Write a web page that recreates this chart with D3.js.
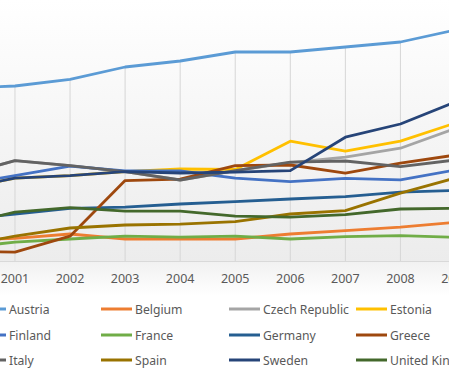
<!DOCTYPE html>
<html>
<head>
<meta charset="utf-8">
<script src="https://cdn.jsdelivr.net/npm/d3@7"></script>
<style>
  body { margin: 0; background: #fff; }
  svg { display: block; font-family: "Noto Sans", sans-serif; }
</style>
</head>
<body>
<svg id="chart" width="449" height="375"></svg>
<script>
// values (arbitrary index units, 2000 and 2009 are partly cut off)
const years = [2000, 2001, 2002, 2003, 2004, 2005, 2006, 2007, 2008, 2009];

const austria = [86.5, 87.5, 90.8, 97, 100, 104.5, 104.5, 107, 109.5, 115.5];
const belgium = [10.5, 11.3, 13.5, 11, 11, 11, 13.5, 15.2, 16.9, 19.3];
const czech   = [42.5, 50.2, 47.7, 44.7, 40.5, 45.2, 49.2, 51.9, 56.4, 66.3];
const estonia = [36, 41.4, 42.7, 44.7, 46, 45.8, 59.9, 54.9, 59.9, 69];
const finland = [38, 42.7, 47.4, 45, 45, 41.4, 39.7, 41.3, 40.6, 45.5];
const france  = [6.5, 9.4, 11, 12.4, 11.9, 12.4, 11, 12.2, 12.7, 11.8];
const germany = [20.5, 23.5, 26.3, 26.9, 28.5, 29.7, 31, 32.2, 34.4, 35.3];
const greece  = [5, 4.4, 12.4, 40.2, 40.9, 47.7, 48, 43.9, 48.9, 53];
const italy   = [42.5, 50.2, 47.7, 44.7, 40.5, 45.2, 49.4, 50, 47.2, 50.5];
const spain   = [7.5, 12.4, 16.5, 18, 18.4, 19.7, 23.5, 25.2, 33.9, 41.5];
const sweden  = [36, 41.4, 42.7, 44.7, 44, 44.4, 45.2, 61.9, 68.5, 79.5];
const uk      = [18, 24.4, 26.7, 24.9, 24.9, 22.4, 21.9, 23.2, 26, 26.4];

const names = ['Austria', 'Belgium', 'Czech Republic', 'Estonia', 'Finland', 'France',
  'Germany', 'Greece', 'Italy', 'Spain', 'Sweden', 'United Kingdom'];
const colors = ['#5B9BD5', '#ED7D31', '#A5A5A5', '#FFC000', '#4472C4', '#70AD47',
  '#255E91', '#9E480E', '#636363', '#997300', '#264478', '#43682B'];

const series = [austria, belgium, czech, estonia, finland, france,
  germany, greece, italy, spain, sweden, uk].map((values, i) => ({
    name: names[i],
    color: colors[i],
    values: values,
  }));

const svg = d3.select('#chart');
const axisY = 261;

const x = d3.scalePoint()
  .domain(years)
  .range([-40.1, 455.5]);

const y = d3.scaleLinear()
  .domain([0, 130])
  .range([axisY, 1]);

// plot background: white fading to light grey at the axis
const defs = svg.append('defs');
const grad = defs.append('linearGradient')
  .attr('id', 'bg')
  .attr('x1', 0).attr('y1', 0).attr('x2', 0).attr('y2', 1);
grad.append('stop').attr('offset', '0%').attr('stop-color', '#ffffff');
grad.append('stop').attr('offset', '100%').attr('stop-color', '#ececec');

const grad2 = defs.append('linearGradient')
  .attr('id', 'bg2')
  .attr('x1', 0).attr('y1', 0).attr('x2', 0).attr('y2', 1);
grad2.append('stop').attr('offset', '0%').attr('stop-color', '#f1f1f1');
grad2.append('stop').attr('offset', '100%').attr('stop-color', '#ffffff');

svg.append('rect')
  .attr('x', 0).attr('y', 0)
  .attr('width', 449).attr('height', axisY)
  .attr('fill', 'url(#bg)');
svg.append('rect')
  .attr('x', 0).attr('y', axisY)
  .attr('width', 449).attr('height', 35)
  .attr('fill', 'url(#bg2)');

// drop lines from the highest point of each year down to the axis
svg.append('g')
  .selectAll('line')
  .data(years)
  .join('line')
    .attr('x1', d => x(d))
    .attr('x2', d => x(d))
    .attr('y1', (d, i) => y(d3.max(series, s => s.values[i])))
    .attr('y2', axisY)
    .attr('stroke', '#d6d6d6')
    .attr('stroke-width', 1);

// category axis
svg.append('line')
  .attr('x1', 0).attr('x2', 449)
  .attr('y1', axisY + 0.5).attr('y2', axisY + 0.5)
  .attr('stroke', '#d9d9d9');

svg.append('g')
  .selectAll('text')
  .data(years)
  .join('text')
    .attr('x', d => x(d))
    .attr('y', 283)
    .attr('text-anchor', 'middle')
    .attr('font-size', 12.5)
    .attr('fill', '#595959')
    .text(d => d);

// series lines, drawn in legend order so later ones sit on top
const line = d3.line()
  .x((d, i) => x(years[i]))
  .y(d => y(d));

svg.append('g')
  .selectAll('path')
  .data(series)
  .join('path')
    .attr('d', d => line(d.values))
    .attr('fill', 'none')
    .attr('stroke', d => d.color)
    .attr('stroke-width', 2.8)
    .attr('stroke-linejoin', 'round')
    .attr('stroke-linecap', 'round');

// legend: 4 columns, 3 rows
const legendCols = [9, 135, 263, 390];
const legendRows = [313.5, 339.5, 364.5];

const item = svg.append('g')
  .selectAll('g')
  .data(series)
  .join('g')
    .attr('transform', (d, i) => `translate(${legendCols[i % 4]}, ${legendRows[Math.floor(i / 4)]})`);

item.append('line')
  .attr('x1', -34).attr('x2', -3)
  .attr('y1', -4.5).attr('y2', -4.5)
  .attr('stroke', d => d.color)
  .attr('stroke-width', 3);

item.append('text')
  .attr('x', 0)
  .attr('y', 0)
  .attr('font-size', 12.2)
  .attr('fill', '#595959')
  .text(d => d.name);
</script>
</body>
</html>
